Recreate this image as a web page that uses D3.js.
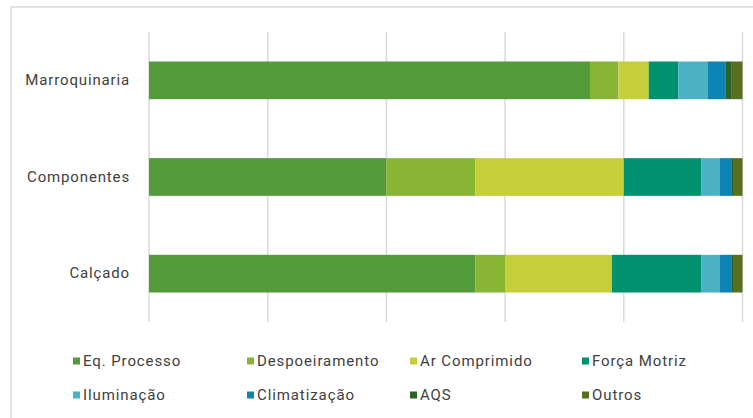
<!DOCTYPE html>
<html>
<head>
<meta charset="utf-8">
<script src="https://cdn.jsdelivr.net/npm/d3@7"></script>
<style>
  body { margin: 0; background: #fff; }
  svg { display: block; font-family: Roboto, "Liberation Sans", sans-serif; }
</style>
</head>
<body>
<svg id="chart" width="753" height="418"></svg>
<script>
// sectors (rows, top to bottom)
const sectors = ["Marroquinaria", "Componentes", "Calçado"];

// end uses, in stacking order
const uses = ["Eq. Processo", "Despoeiramento", "Ar Comprimido", "Força Motriz",
              "Iluminação", "Climatização", "AQS", "Outros"];

const useColors = ["#539b3a", "#89b534", "#c4cf3a", "#00916f",
                   "#4bb2c5", "#0c84b4", "#2e6125", "#56701f"];

// share of consumption (%) per sector, same order as uses
const marroquinaria = [74.3, 4.8, 5.1, 5.0, 4.9, 3.1, 1.0, 1.8];
const componentes   = [40.0, 15.0, 25.0, 13.1, 3.1, 1.9, 0.3, 1.6];
const calcado       = [55.0, 5.0, 18.0, 15.1, 3.1, 1.9, 0.3, 1.6];

const xTicks = [0, 20, 40, 60, 80, 100];

const seriesBySector = [marroquinaria, componentes, calcado];

let rows = sectors.map((s, i) => {
    let obj = { sector: s };
    uses.forEach((u, j) => { obj[u] = seriesBySector[i][j]; });
    return obj;
});

let chart = d3.select("#chart");

// outer frame
chart.append("rect")
    .attr("x", 11).attr("y", 7)
    .attr("width", 760).attr("height", 430)
    .attr("fill", "none")
    .attr("stroke", "#d9d9d9")
    .attr("stroke-width", 1.5);

let xScale = d3.scaleLinear()
    .domain([0, 100])
    .range([149, 742.5]);

let yScale = d3.scaleBand()
    .domain(sectors)
    .range([32, 322])
    .paddingInner(0.61)
    .paddingOuter(0.305);

let color = d3.scaleOrdinal().domain(uses).range(useColors);

// vertical gridlines
chart.append("g")
    .selectAll("line")
    .data(xTicks).enter()
    .append("line")
        .attr("x1", d => xScale(d))
        .attr("x2", d => xScale(d))
        .attr("y1", 32)
        .attr("y2", 322)
        .attr("stroke", "#d9d9d9")
        .attr("stroke-width", 1.5);

let stacked = d3.stack().keys(uses)(rows);

chart.append("g")
    .selectAll("g")
    .data(stacked).enter()
    .append("g")
        .attr("fill", d => color(d.key))
    .selectAll("rect")
    .data(d => d).enter()
    .append("rect")
        .attr("x", d => xScale(d[0]))
        .attr("y", d => yScale(d.data.sector))
        .attr("width", d => xScale(d[1]) - xScale(d[0]))
        .attr("height", yScale.bandwidth());

// category labels
let yAxis = chart.append("g")
    .attr("transform", "translate(140,0)")
    .call(d3.axisLeft(yScale).tickSize(0).tickPadding(10));
yAxis.select(".domain").remove();
yAxis.selectAll("text")
    .attr("font-size", "15px")
    .attr("font-family", "Roboto, sans-serif")
    .attr("letter-spacing", "0.85px")
    .attr("fill", "#404040");

// legend: 4 columns, 2 rows
const legendCols = [73, 247, 410, 582];
const legendRows = [361, 395];

let legend = chart.append("g")
    .selectAll("g")
    .data(uses).enter()
    .append("g")
        .attr("transform", (d, i) => "translate(" + legendCols[i % 4] + "," + legendRows[Math.floor(i / 4)] + ")");

legend.append("rect")
    .attr("x", 0).attr("y", -3.5)
    .attr("width", 7).attr("height", 7)
    .attr("fill", d => color(d));

legend.append("text")
    .text(d => d)
    .attr("x", 10)
    .attr("dy", "0.35em")
    .attr("font-size", "15px")
    .attr("letter-spacing", "0.9px")
    .attr("fill", "#404040");
</script>
</body>
</html>
